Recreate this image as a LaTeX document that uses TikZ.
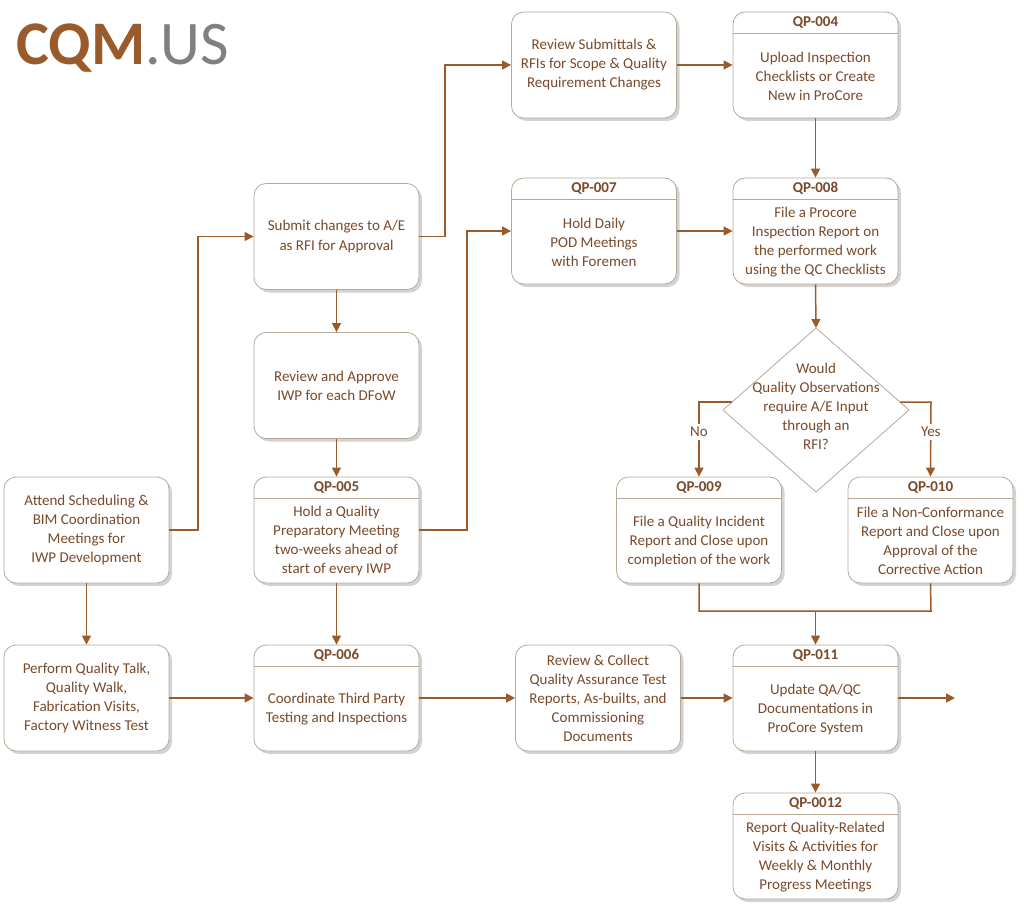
\documentclass[tikz,border=0pt]{standalone}
\usepackage{fontspec}
\setmainfont{Carlito}
\usetikzlibrary{shadows,arrows.meta,calc}
\definecolor{br}{HTML}{9A5B2C}
\definecolor{tx}{HTML}{7A4A2A}
\definecolor{bd}{HTML}{B8A898}
\tikzset{
 box/.style={draw=bd,line width=0.8pt,fill=white,rounded corners=12pt,minimum width=165pt,minimum height=106pt,
   drop shadow={shadow xshift=3pt,shadow yshift=-3pt,opacity=0.35},text=tx,font=\fontsize{15}{19}\selectfont,align=center},
 con/.style={draw=br,line width=1.5pt,-{Triangle[length=9pt,width=9pt]}},
 ln/.style={draw=br,line width=1.5pt},
 hd/.style={text=tx,font=\bfseries\fontsize{15}{16}\selectfont}
}
\begin{document}
\begin{tikzpicture}[x=1pt,y=-1pt]
\useasboundingbox (0,0) rectangle (1024,920);
\node[anchor=west,font=\bfseries\fontsize{62}{62}\selectfont,text=br,inner sep=0] (logo) at (16,48) {CQM\textcolor{gray}{\mdseries.US}};
% plain boxes
\node[box] (sub) at (594,65) {Review Submittals \&\\RFIs for Scope \& Quality\\Requirement Changes};
\node[box] (chg) at (336.5,236.5) {Submit changes to A/E\\as RFI for Approval};
\node[box] (apr) at (336.5,385.5) {Review and Approve\\IWP for each DFoW};
\node[box] (att) at (86.5,530) {Attend Scheduling \&\\BIM Coordination\\Meetings for\\IWP Development};
\node[box] (prf) at (86.5,698) {Perform Quality Talk,\\Quality Walk,\\Fabrication Visits,\\Factory Witness Test};
\node[box] (col) at (598,698) {Review \& Collect\\Quality Assurance Test\\Reports, As-builts, and\\Commissioning\\Documents};
% header boxes
\foreach \n/\x/\y/\h/\t in {
 q4/815.5/65/QP-004/{Upload Inspection\\Checklists or Create\\New in ProCore},
 q7/594/231/QP-007/{Hold Daily\\POD Meetings\\with Foremen},
 q8/815.5/231/QP-008/{File a Procore\\Inspection Report on\\the performed work\\using the QC Checklists},
 q5/336.5/530/QP-005/{Hold a Quality\\Preparatory Meeting\\two-weeks ahead of\\start of every IWP},
 q9/699/530/QP-009/{File a Quality Incident\\Report and Close upon\\completion of the work},
 q10/930.5/530/QP-010/{File a Non-Conformance\\Report and Close upon\\Approval of the\\Corrective Action},
 q6/336.5/698/QP-006/{Coordinate Third Party\\Testing and Inspections},
 q11/815.5/698/QP-011/{Update QA/QC\\Documentations in\\ProCore System},
 q12/815.5/846/QP-0012/{Report Quality-Related\\Visits \& Activities for\\Weekly \& Monthly\\Progress Meetings}}
{
 \node[box] (\n) at (\x,\y) {};
 \draw[bd,line width=0.8pt] ($(\n.north west)+(0,22)$) -- ($(\n.north east)+(0,22)$);
 \node[hd] at ($(\n.north)+(0,11)$) {\h};
 \node[text=tx,font=\fontsize{15}{19}\selectfont,align=center] at ($(\n.center)+(0,11)$) {\t};
}
% diamond
\draw[bd,line width=0.8pt,fill=white] (816,328) coordinate (dt) -- (909,410) coordinate (dr) -- (816,492) coordinate (db) -- (723,410) coordinate (dl) -- cycle;
\node[text=tx,font=\fontsize{15}{19}\selectfont,align=center] (dia) at (816,406) {Would\\Quality Observations\\require A/E Input\\through an\\RFI?};
% connectors
\draw[con] (att.east) -- (198,530) -- (198,236.5) -- (chg.west);
\draw[con] (chg.east) -- (445,236.5) -- (445,65) -- (sub.west);
\draw[con] (sub) -- (q4);
\draw[con] (q4) -- (q8);
\draw[con] (chg) -- (apr);
\draw[con] (apr) -- (q5);
\draw[con] (q5.east) -- (467,530) -- (467,231) -- (q7.west);
\draw[con] (q7) -- (q8);
\draw[con] (q8.south) -- (dt);
\draw[con] (732,402) -- (699,402) -- node[pos=0.4,fill=white,text=tx,font=\fontsize{15}{16}\selectfont]{No} (q9.north);
\draw[con] (900,402) -- (931,402) -- node[pos=0.4,fill=white,text=tx,font=\fontsize{15}{16}\selectfont]{Yes} (q10.north);
\draw[ln] (q9.south) -- (699,611) -- (931,611) -- (q10.south);
\coordinate (mj) at (815.5,611);
\draw[con] (mj) -- (q11.north);
\draw[con] (att) -- (prf);
\draw[con] (q5) -- (q6);
\draw[con] (prf) -- (q6);
\draw[con] (q6) -- (col);
\draw[con] (col) -- (q11);
\coordinate (out) at (955,698);
\draw[con] (q11.east) -- (out);
\draw[con] (q11) -- (q12);
\end{tikzpicture}
\end{document}
